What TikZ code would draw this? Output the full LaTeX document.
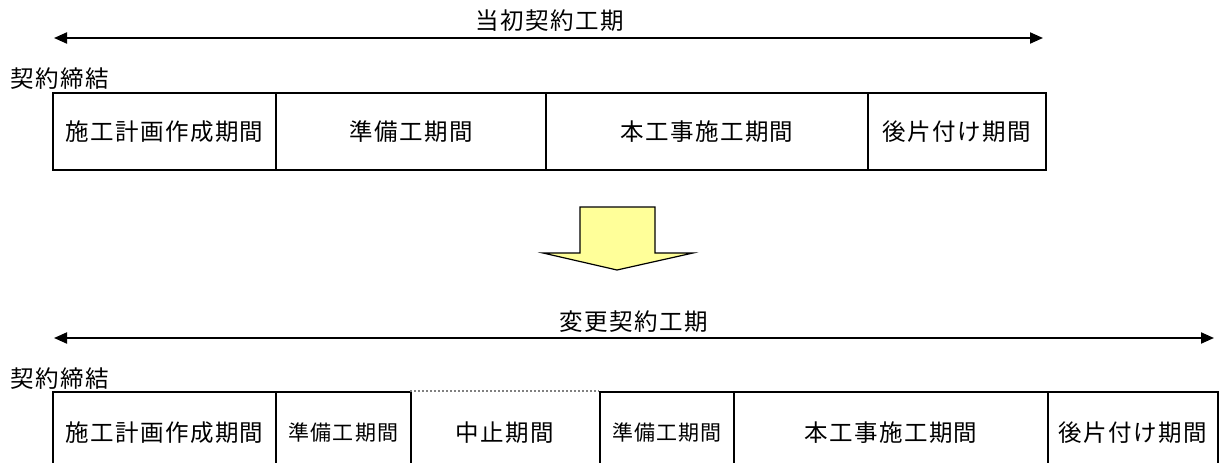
\documentclass[tikz,border=0pt]{standalone}
\usepackage{fontspec}
\newfontfamily\jpbig[LetterSpace=6]{Noto Sans CJK JP}
\newfontfamily\jpsmall[LetterSpace=5]{Noto Sans CJK JP}
\usetikzlibrary{arrows.meta}
\definecolor{arrowyellow}{HTML}{FFFF99}
\tikzset{
  big/.style={font=\jpbig\fontsize{23.5}{25}\selectfont},
  small/.style={font=\jpsmall\fontsize{21}{23}\selectfont},
  period/.style={draw=black, line width=2pt, inner sep=0pt, anchor=north west},
  span/.style={line width=2pt, {Triangle[length=13pt,width=11pt]}-{Triangle[length=13pt,width=11pt]}},
  bigarrow/.style={draw=black, line width=1.2pt, fill=arrowyellow, line join=miter}
}
\begin{document}
\begin{tikzpicture}[x=1pt,y=-1pt]
\clip (0,0) rectangle (1219,463);
\fill[white] (0,0) rectangle (1219,463);
% top span
\coordinate (t1) at (54,38);
\coordinate (t2) at (1043,38);
\draw[span] (t1) -- (t2);
\node[big] (tlabel) at (550,21) {当初契約工期};
\node[big, anchor=west] (tsign) at (7,79) {契約締結};
% top row
\node[period, minimum width=223pt, minimum height=77pt] (a1) at (52,92) {};
\node[big] at (a1.center) {施工計画作成期間};
\node[period, minimum width=270pt, minimum height=77pt] (a2) at (275,92) {};
\node[big] at (a2.center) {準備工期間};
\node[period, minimum width=322pt, minimum height=77pt] (a3) at (545,92) {};
\node[big] at (a3.center) {本工事施工期間};
\node[period, minimum width=178pt, minimum height=77pt] (a4) at (867,92) {};
\node[big] at (a4.center) {後片付け期間};
% block arrow
\draw[bigarrow] (580,207) -- (655,207) -- (655,253) -- (693,253) -- (617,270) -- (543,253) -- (580,253) -- cycle;
% bottom span
\coordinate (b1) at (54,338);
\coordinate (b2) at (1214,338);
\draw[span] (b1) -- (b2);
\node[big] (blabel) at (634,322) {変更契約工期};
\node[big, anchor=west] (bsign) at (7,379) {契約締結};
% bottom row
\node[period, minimum width=223pt, minimum height=82pt] (c1) at (52,391) {};
\node[big] at (c1.center) {施工計画作成期間};
\node[period, minimum width=135pt, minimum height=82pt] (c2) at (275,391) {};
\node[small] at (c2.center) {準備工期間};
\node[inner sep=0pt, anchor=north west, minimum width=189pt, minimum height=82pt] (c3) at (410,391) {};
\draw[gray, line width=2pt, dotted] (c3.north west) -- (c3.north east);
\node[big] at (c3.center) {中止期間};
\node[period, minimum width=134pt, minimum height=82pt] (c4) at (599,391) {};
\node[small] at (c4.center) {準備工期間};
\node[period, minimum width=314pt, minimum height=82pt] (c5) at (733,391) {};
\node[big] at (c5.center) {本工事施工期間};
\node[period, minimum width=170pt, minimum height=82pt] (c6) at (1047,391) {};
\node[big] at (c6.center) {後片付け期間};
\end{tikzpicture}
\end{document}
